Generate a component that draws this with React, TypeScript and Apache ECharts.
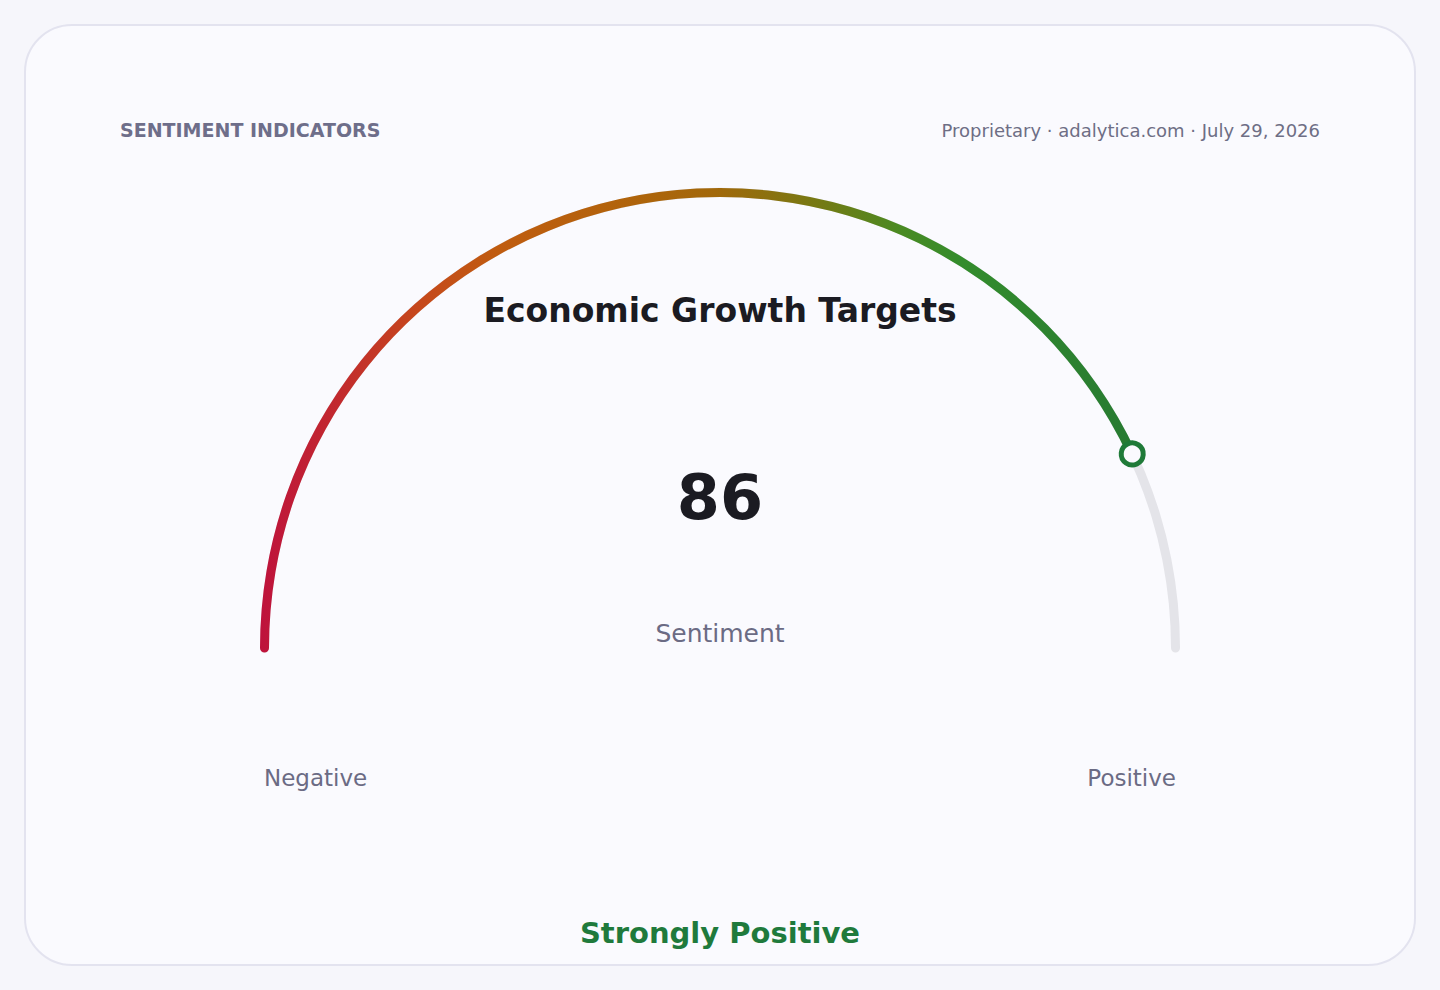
import { useEffect, useRef } from 'react';
import * as echarts from 'echarts';

// gauge data
const GAUGE_MIN = 0;
const GAUGE_MAX = 100;
const SCORE = 86;
const SCORE_NAME = 'Sentiment';
const END_LABELS = ['Negative', 'Positive'];
const VERDICT = 'Strongly Positive';

const TITLE = 'Economic Growth Targets';
const HEADER = 'SENTIMENT INDICATORS';
const SOURCE = 'Proprietary · adalytica.com · July 29, 2026';

// colour ramp along the arc (left -> right)
const RAMP_STOPS = [0, 0.09, 0.18, 0.27, 0.39, 0.52, 0.64, 0.73, 0.8, 1];
const RAMP_COLORS = [
  '#be123c',
  '#c22a2e',
  '#c6481c',
  '#c05c10',
  '#b4620c',
  '#a2680a',
  '#747a14',
  '#4a8a22',
  '#338c2c',
  '#277a32',
];

const FONT = "'DejaVu Sans', sans-serif";

export default function App() {
  const chartRef = useRef<HTMLDivElement>(null);

  useEffect(() => {
    if (!chartRef.current) return;
    const chart = echarts.init(chartRef.current, undefined, { renderer: 'svg' });

    const ramp = new echarts.graphic.LinearGradient(
      0,
      0,
      1,
      0,
      RAMP_STOPS.map((offset, i) => ({ offset, color: RAMP_COLORS[i] }))
    );

    // shared geometry of both gauge layers
    const base = {
      type: 'gauge' as const,
      center: [720, 648],
      radius: 460,
      startAngle: 180,
      endAngle: 0,
      min: GAUGE_MIN,
      max: GAUGE_MAX,
      anchor: { show: false },
      axisTick: { show: false },
      splitLine: { show: false },
      axisLabel: { show: false },
    };

    const option: echarts.EChartsOption = {
      animation: false,
      title: {
        text: TITLE,
        left: 'center',
        top: 289,
        textStyle: {
          fontFamily: FONT,
          fontSize: 33,
          fontWeight: 'bold',
          color: '#1b1b22',
        },
      },
      graphic: [
        {
          type: 'text',
          x: 120,
          y: 130,
          style: {
            text: HEADER,
            fontFamily: FONT,
            fontSize: 19,
            fontWeight: 'bold',
            fill: '#6e6e8a',
            textAlign: 'left',
            textVerticalAlign: 'middle',
          },
        },
        {
          type: 'text',
          x: 1320,
          y: 130,
          style: {
            text: SOURCE,
            fontFamily: FONT,
            fontSize: 18,
            fill: '#6e6e85',
            textAlign: 'right',
            textVerticalAlign: 'middle',
          },
        },
        {
          type: 'text',
          x: 264,
          y: 778,
          style: {
            text: END_LABELS[0],
            fontFamily: FONT,
            fontSize: 23,
            fill: '#6b6b84',
            textAlign: 'left',
            textVerticalAlign: 'middle',
          },
        },
        {
          type: 'text',
          x: 1176,
          y: 778,
          style: {
            text: END_LABELS[1],
            fontFamily: FONT,
            fontSize: 23,
            fill: '#6b6b84',
            textAlign: 'right',
            textVerticalAlign: 'middle',
          },
        },
        {
          type: 'text',
          x: 720,
          y: 933,
          style: {
            text: VERDICT,
            fontFamily: FONT,
            fontSize: 29,
            fontWeight: 'bold',
            fill: '#1f7a3c',
            textAlign: 'center',
            textVerticalAlign: 'middle',
          },
        },
      ],
      series: [
        {
          ...base,
          axisLine: {
            roundCap: true,
            lineStyle: { width: 9, color: [[1, '#e4e4e9']] },
          },
          progress: {
            show: true,
            width: 9,
            roundCap: true,
            itemStyle: { color: ramp },
          },
          pointer: { show: false },
          title: {
            offsetCenter: [0, -15],
            fontFamily: FONT,
            fontSize: 25,
            color: '#6b6b84',
          },
          detail: {
            offsetCenter: [0, -151],
            fontFamily: FONT,
            fontSize: 62,
            fontWeight: 'bold',
            color: '#1b1b22',
            formatter: '{value}',
          },
          data: [{ value: SCORE, name: SCORE_NAME }],
        },
        {
          // marker ring, kept above the arc
          ...base,
          z: 10,
          axisLine: { show: false },
          progress: { show: false },
          pointer: {
            show: true,
            icon: 'circle',
            width: 22,
            length: 22,
            keepAspect: true,
            offsetCenter: [0, -444.5],
            itemStyle: {
              color: '#fafafe',
              borderColor: '#1f7a38',
              borderWidth: 5,
            },
          },
          title: { show: false },
          detail: { show: false },
          data: [{ value: SCORE }],
        },
      ],
    };

    chart.setOption(option);

    return () => {
      chart.dispose();
    };
  }, []);

  return (
    <div style={{ position: 'fixed', inset: 0, background: '#f6f6fb' }}>
      <div
        style={{
          position: 'absolute',
          left: 24,
          top: 24,
          width: 1392,
          height: 942,
          boxSizing: 'border-box',
          border: '2px solid #e3e3ef',
          borderRadius: 48,
          background: '#fafafe',
        }}
      />
      <div
        ref={chartRef}
        style={{ position: 'absolute', left: 0, top: 0, width: 1440, height: 990 }}
      />
    </div>
  );
}
